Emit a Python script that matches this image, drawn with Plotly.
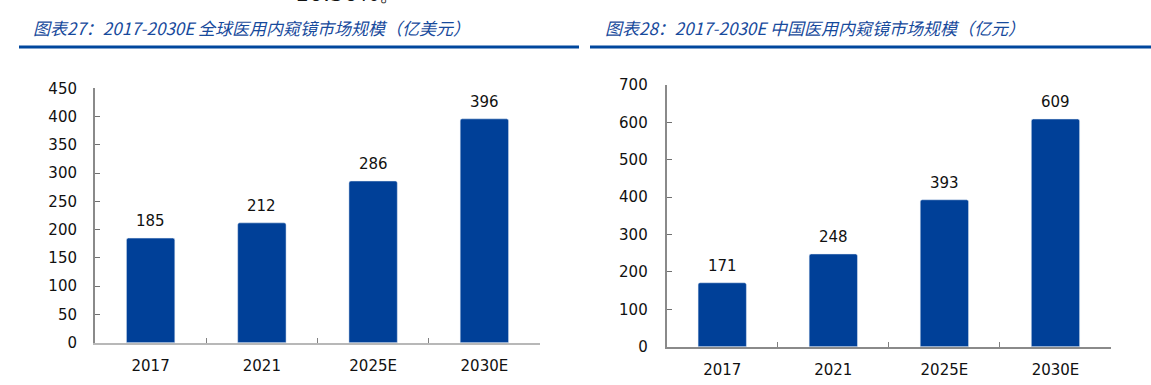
import plotly.graph_objects as go

W, H = 1151, 385

categories = ["2017", "2021", "2025E", "2030E"]
global_values = [185, 212, 286, 396]
china_values = [171, 248, 393, 609]
global_ticks = [0, 50, 100, 150, 200, 250, 300, 350, 400, 450]
china_ticks = [0, 100, 200, 300, 400, 500, 600, 700]
title_left = "图表27：2017-2030E 全球医用内窥镜市场规模（亿美元）"
title_right = "图表28：2017-2030E 中国医用内窥镜市场规模（亿元）"
top_text = "10.30%。"

BAR = "#004098"
TITLE = "#174a9c"
FONT = "DejaVu Sans, Verdana, sans-serif"
FS = 15

def px_x(p):
    return p / W

def px_y(p):
    return 1 - p / H

fig = go.Figure()
fig.add_trace(go.Bar(x=categories, y=global_values, marker_color=BAR,
                     xaxis="x", yaxis="y", showlegend=False, hoverinfo="x+y"))
fig.add_trace(go.Bar(x=categories, y=china_values, marker_color=BAR,
                     xaxis="x2", yaxis="y2", showlegend=False, hoverinfo="x+y"))

axis_common_x = dict(type="category", categoryorder="array", categoryarray=categories,
                     range=[-0.5, len(categories) - 0.5], automargin=False,
                     showline=True, linewidth=2, tickangle=0,
                     ticks="inside", ticklen=5, tickwidth=1, tickcolor="#808080",
                     tickson="boundaries", showgrid=False, zeroline=False,
                     tickfont=dict(family=FONT, size=FS, color="#111111"),
                     ticklabelstandoff=8, fixedrange=True)
axis_common_y = dict(showline=True, linewidth=2, linecolor="#8a8a8a", automargin=False,
                     ticks="inside", ticklen=5, tickwidth=1, tickcolor="#707070",
                     showgrid=False, zeroline=False,
                     tickfont=dict(family=FONT, size=FS, color="#111111"),
                     fixedrange=True)

annotations = []
for i, v in enumerate(global_values):
    annotations.append(dict(x=i, y=v, xref="x", yref="y", text=str(v), showarrow=False,
                            yanchor="bottom", yshift=6,
                            font=dict(family=FONT, size=FS, color="#111111")))
for i, v in enumerate(china_values):
    annotations.append(dict(x=i, y=v, xref="x2", yref="y2", text=str(v), showarrow=False,
                            yanchor="bottom", yshift=6,
                            font=dict(family=FONT, size=FS, color="#111111")))

title_font = dict(family="Noto Sans CJK SC, sans-serif", size=17, color=TITLE)
annotations.append(dict(x=px_x(31), y=px_y(27), xref="paper", yref="paper",
                        text="<i>" + title_left + "</i>", showarrow=False,
                        xanchor="left", yanchor="middle", font=title_font))
annotations.append(dict(x=px_x(603), y=px_y(27), xref="paper", yref="paper",
                        text="<i>" + title_right + "</i>", showarrow=False,
                        xanchor="left", yanchor="middle", font=title_font))
annotations.append(dict(x=px_x(293), y=px_y(8.5), xref="paper", yref="paper",
                        text=top_text, showarrow=False, xanchor="left", yanchor="bottom",
                        font=dict(family=FONT, size=22, color="#111111")))

shapes = [
    dict(type="line", xref="paper", yref="paper", x0=px_x(19), x1=px_x(579),
         y0=px_y(47), y1=px_y(47), line=dict(color="#00479d", width=3)),
    dict(type="line", xref="paper", yref="paper", x0=px_x(590), x1=1.0,
         y0=px_y(47), y1=px_y(47), line=dict(color="#00479d", width=3)),
]

fig.update_layout(
    width=W, height=H, margin=dict(l=0, r=0, t=0, b=0, autoexpand=False),
    paper_bgcolor="white", plot_bgcolor="white",
    bargap=0.565, barcornerradius=2,
    xaxis=dict(domain=[px_x(95), px_x(540)], anchor="y", linecolor="#b8b8b8", **axis_common_x),
    yaxis=dict(domain=[px_y(342.7), px_y(88.3)], anchor="x", range=[0, 450],
               tickvals=global_ticks, ticklabelstandoff=13, **axis_common_y),
    xaxis2=dict(domain=[px_x(666.7), px_x(1111)], anchor="y2", linecolor="#8a8a8a", **axis_common_x),
    yaxis2=dict(domain=[px_y(346.7), px_y(85)], anchor="x2", range=[0, 700],
                tickvals=china_ticks, ticklabelstandoff=14, **axis_common_y),
    annotations=annotations, shapes=shapes,
)

fig.write_html("out.html", config={"displayModeBar": False},
               post_script="document.body.style.margin='0';document.body.style.overflow='hidden';")
